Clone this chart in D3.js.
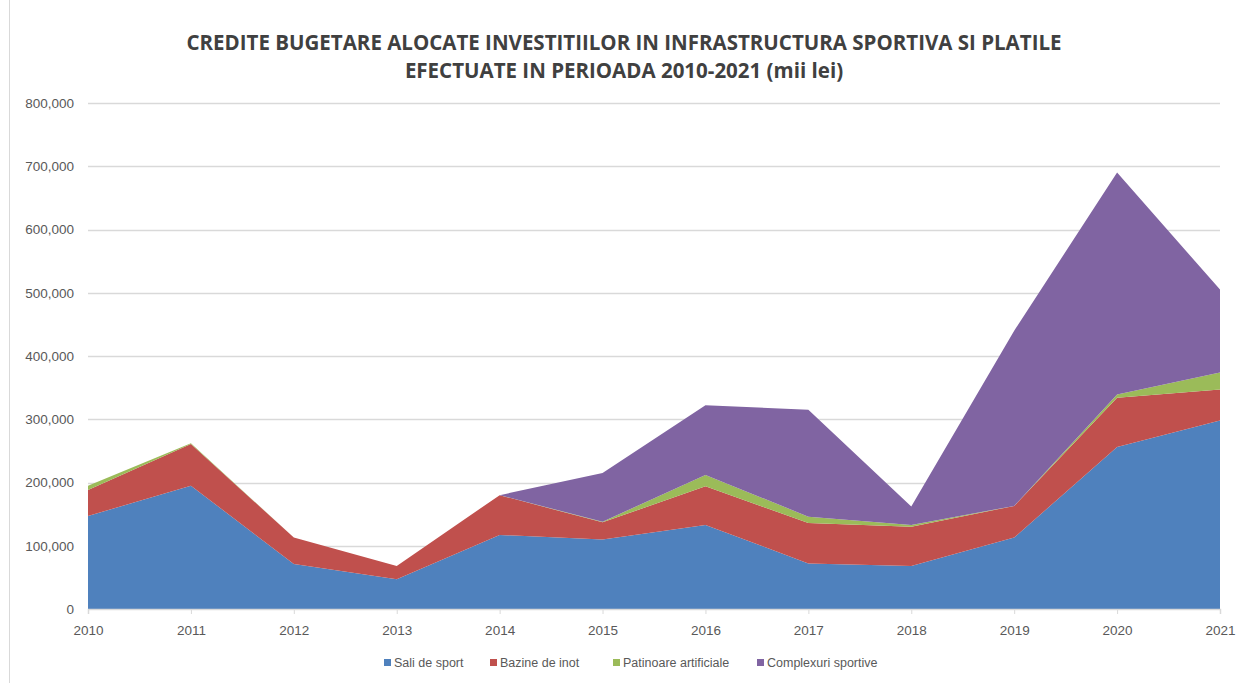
<!DOCTYPE html>
<html><head><meta charset="utf-8">
<script src="https://cdn.jsdelivr.net/npm/d3@7"></script>
<style>
body{margin:0;background:#fff;}
svg{display:block;font-family:"Liberation Sans",Arial,sans-serif;}
</style></head>
<body>
<svg id="chart" width="1245" height="683"></svg>
<script>
const years = [2010,2011,2012,2013,2014,2015,2016,2017,2018,2019,2020,2021];
const seriesNames = ["Sali de sport","Bazine de inot","Patinoare artificiale","Complexuri sportive"];
const saliDeSport = [147000,195000,71000,47000,117000,110000,133000,72000,68000,113000,256000,298000];
const bazineDeInot = [41000,66000,42000,21000,63000,27000,61000,64000,62000,50000,78000,49000];
const patinoare = [7000,1000,0,0,0,1000,18000,10000,3000,0,5000,27000];
const complexuri = [0,0,0,0,0,77000,110000,169000,29000,277000,351000,131000];
const yTicks = [0,100000,200000,300000,400000,500000,600000,700000,800000];
const colors = ["#4f81bd","#c0504d","#9bbb59","#8064a2"];
const titleLines = ["CREDITE BUGETARE ALOCATE INVESTITIILOR IN INFRASTRUCTURA SPORTIVA SI PLATILE","EFECTUATE IN PERIOADA 2010-2021 (mii lei)"];

const svg = d3.select("#chart");
const m = {left:88, right:1220, top:103, bottom:609};

const table = years.map((y,i)=>({year:y, s0:saliDeSport[i], s1:bazineDeInot[i], s2:patinoare[i], s3:complexuri[i]}));
const stack = d3.stack().keys(["s0","s1","s2","s3"]);
const stacked = stack(table);

const x = d3.scaleLinear().domain([years[0], years[years.length-1]]).range([m.left, m.right]);
const y = d3.scaleLinear().domain([0,800000]).range([m.bottom, m.top]);

// frame line on left
svg.append("line").attr("x1",9.5).attr("x2",9.5).attr("y1",0).attr("y2",683).attr("stroke","#d9d9d9");

// gridlines
svg.append("g").selectAll("line").data(yTicks.filter(d=>d>0)).join("line")
  .attr("x1",m.left).attr("x2",m.right)
  .attr("y1",d=>Math.round(y(d))+0.5).attr("y2",d=>Math.round(y(d))+0.5)
  .attr("stroke","#d9d9d9").attr("stroke-width",1.5);

// areas
const area = d3.area().x(d=>x(d.data.year)).y0(d=>y(d[0])).y1(d=>y(d[1]));
svg.append("g").selectAll("path").data(stacked).join("path")
  .attr("d",area).attr("fill",(d,i)=>colors[i]);

// y axis labels
const yAxis = d3.axisLeft(y).tickValues(yTicks).tickFormat(d=>d===0?"0":d3.format(",")(d)).tickSize(0).tickPadding(14);
const gy = svg.append("g").attr("transform",`translate(${m.left},0)`).call(yAxis);
gy.select(".domain").remove();
gy.selectAll("text").attr("fill","#595959").style("font-size","13.5px");

// x axis
const xAxis = d3.axisBottom(x).tickValues(years).tickFormat(d3.format("d")).tickSize(5).tickPadding(11);
const gx = svg.append("g").attr("transform",`translate(0,${m.bottom})`).call(xAxis);
gx.select(".domain").attr("stroke","#d9d9d9").attr("stroke-width",1.5);
gx.selectAll(".tick line").attr("stroke","#d9d9d9");
gx.selectAll("text").attr("fill","#595959").style("font-size","13.5px");

// title
const t = svg.append("text").attr("text-anchor","middle").attr("fill","#404040")
  .style("font-size","20.5px").style("font-weight","bold")
  .style("font-family","'Open Sans',sans-serif");
titleLines.forEach((l,i)=>t.append("tspan").attr("x",624).attr("y",50+i*28).text(l));

// legend
const legendX = [384,490,613,757];
const lg = svg.append("g");
seriesNames.forEach((n,i)=>{
  lg.append("rect").attr("x",legendX[i]).attr("y",659).attr("width",7).attr("height",7).attr("fill",colors[i]);
  lg.append("text").attr("x",legendX[i]+10).attr("y",667).attr("fill","#595959").style("font-size","12.5px").text(n);
});
</script>
</body></html>
